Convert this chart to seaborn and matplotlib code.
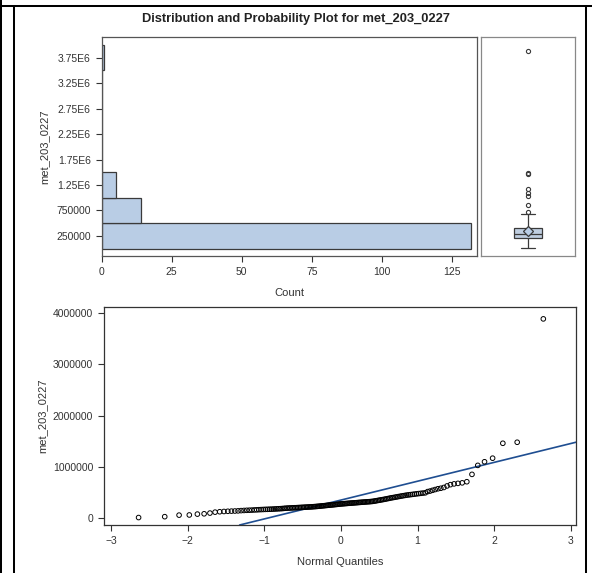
import numpy as np
import pandas as pd
import matplotlib
matplotlib.use("Agg")
import matplotlib.pyplot as plt
from matplotlib.lines import Line2D
import seaborn as sns
from statistics import NormalDist

values_low = [15000, 32000, 62000, 65000, 82000, 88000, 102000, 120000, 128000, 133000,
              137000, 140000, 142000, 145000, 150000, 153000, 156000, 158000, 160000,
              163000, 165000]
values_q1 = [168000, 170000, 172000, 174000, 175000, 177000, 178000, 180000, 182000,
             184000, 186000, 188000, 190000, 193000, 196000, 198000, 200000, 201000,
             203000, 204000, 206000, 207000, 209000, 210000, 212000, 213000, 215000,
             216000, 218000, 219000, 221000, 222000, 224000, 226000, 228000, 230000]
values_mid = [232000, 235000, 237000, 240000, 243000, 245000, 248000, 250000, 253000,
              255000, 258000, 260000, 263000, 265000, 268000, 270000, 273000, 276000,
              279000, 281000, 283000, 285000, 287000, 289000, 291000, 293000, 295000,
              297000, 299000, 301000, 303000, 305000, 307000, 309000, 311000, 313000,
              315000, 317000, 319000, 321000, 323000, 325000, 327000, 330000]
values_q3 = [334000, 339000, 344000, 349000, 354000, 359000, 364000, 369000, 375000,
             381000, 387000, 393000, 400000, 404000, 410000, 416000, 422000, 428000,
             434000, 440000, 446000, 452000, 456000, 461000, 466000, 471000, 476000,
             481000, 486000, 491000, 496000]
values_high = [520000, 530000, 545000, 560000, 575000, 585000, 600000, 630000, 655000,
               670000, 680000, 690000, 712000, 855000, 1030000, 1100000, 1170000,
               1460000, 1480000, 3880000]

hist_bin_edges = [0, 500000, 1000000, 1500000, 2000000, 2500000, 3000000, 3500000, 4000000]
hist_ytick_values = [250000, 750000, 1250000, 1750000, 2250000, 2750000, 3250000, 3750000]
hist_ytick_labels = ["250000", "750000", "1.25E6", "1.75E6", "2.25E6", "2.75E6", "3.25E6", "3.75E6"]
hist_xticks = [0, 25, 50, 75, 100, 125]
qq_xticks = [-3, -2, -1, 0, 1, 2, 3]
qq_yticks = [0, 1000000, 2000000, 3000000, 4000000]
var_name = "met_203_0227"
title_text = "Distribution and Probability Plot for met_203_0227"

vals = np.array(values_low + values_q1 + values_mid + values_q3 + values_high, dtype=float)
n = len(vals)
nd = NormalDist()
quantiles = np.array([nd.inv_cdf((i - 0.375) / (n + 0.25)) for i in range(1, n + 1)])
df = pd.DataFrame({var_name: np.sort(vals), "Normal Quantiles": quantiles})
mu = df[var_name].mean()
sigma = df[var_name].std()

# ---------------- style ----------------
sns.set_style("ticks")
plt.rcParams["font.family"] = ["Liberation Sans", "DejaVu Sans"]
fill_c = "#b9cde5"
edge_c = "#3a3a3a"
text_c = "#333333"
plt.rcParams.update({
    "xtick.color": text_c, "ytick.color": text_c,
    "xtick.labelcolor": text_c, "ytick.labelcolor": text_c,
    "xtick.major.size": 4.3, "ytick.major.size": 4.3,
    "xtick.major.width": 0.8, "ytick.major.width": 0.8,
    "xtick.labelsize": 7.5, "ytick.labelsize": 7.5,
    "axes.labelsize": 8, "axes.labelcolor": text_c,
})

W, H = 592, 573
fig = plt.figure(figsize=(W / 100, H / 100), dpi=100)

def rect(x0, y0, x1, y1):
    return [x0 / W, 1 - y1 / H, (x1 - x0) / W, (y1 - y0) / H]

ax_h = fig.add_axes(rect(101.5, 37.3, 476.5, 255.7))
ax_b = fig.add_axes(rect(480.7, 37.3, 574.7, 255.7))
ax_q = fig.add_axes(rect(104, 306.7, 576, 525))

# ---------------- histogram ----------------
sns.histplot(data=df, y=var_name, bins=hist_bin_edges, ax=ax_h, color=fill_c,
             edgecolor=edge_c, linewidth=0.9, alpha=1)
ylim = (-138000, 4150000)
ax_h.set_ylim(*ylim)
ax_h.set_xlim(0, 133.8)
ax_h.set_yticks(hist_ytick_values)
ax_h.set_yticklabels(hist_ytick_labels)
ax_h.set_xticks(hist_xticks)
ax_h.set_xlabel("Count", labelpad=8)
ax_h.set_ylabel(var_name, labelpad=5)
for s in ax_h.spines.values():
    s.set_color("#555555")
    s.set_linewidth(0.9)

# ---------------- boxplot ----------------
sns.boxplot(data=df, y=var_name, ax=ax_b, width=0.3, color=fill_c, linecolor=edge_c,
            linewidth=0.9, showmeans=True, whis=1.5,
            meanprops=dict(marker="D", markersize=5.5, markerfacecolor=fill_c,
                           markeredgecolor=edge_c, markeredgewidth=0.9),
            flierprops=dict(marker="o", markersize=3, markerfacecolor="none",
                            markeredgecolor=edge_c, markeredgewidth=0.8))
ax_b.set_ylim(*ylim)
ax_b.set_xlim(-0.5, 0.5)
ax_b.set_xticks([])
ax_b.set_yticks([])
ax_b.set_xlabel("")
ax_b.set_ylabel("")
for s in ax_b.spines.values():
    s.set_color("#888888")
    s.set_linewidth(0.9)

# ---------------- probability plot ----------------
sns.scatterplot(data=df, x="Normal Quantiles", y=var_name, ax=ax_q, marker="o",
                s=11, facecolor="none", edgecolor="black", linewidth=0.7, zorder=3)
ax_q.axline((0, mu), slope=sigma, color="#1f4e91", linewidth=1.2, zorder=2)
ax_q.set_xlim(-3.095, 3.07)
ax_q.set_ylim(-130000, 4117000)
ax_q.set_xticks(qq_xticks)
ax_q.set_yticks(qq_yticks)
ax_q.set_yticklabels([str(v) for v in qq_yticks])
ax_q.set_xlabel("Normal Quantiles", labelpad=8)
ax_q.set_ylabel(var_name, labelpad=4)
for s in ax_q.spines.values():
    s.set_color("#333333")
    s.set_linewidth(0.9)

# ---------------- title and frame ----------------
fig.text(296 / W, 1 - 19 / H, title_text, ha="center", va="center",
         fontsize=9.3, fontweight="bold", color="#222222")
lw = 1.45
for xp in (1, 14.3, 585.7):
    y_top = 1 if xp < 5 else 1 - 6 / H
    fig.add_artist(Line2D([xp / W, xp / W], [0, y_top], color="black", linewidth=lw))
fig.add_artist(Line2D([0, 1], [1 - 6 / H, 1 - 6 / H], color="black", linewidth=lw))

fig.savefig("out.png", dpi=100)
